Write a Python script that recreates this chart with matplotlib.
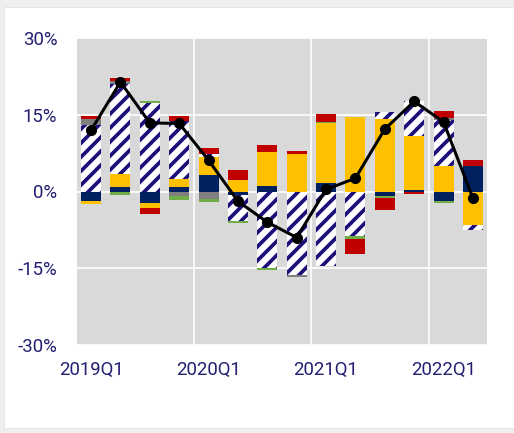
import matplotlib
matplotlib.use("Agg")
import matplotlib.pyplot as plt
from matplotlib.patches import Rectangle
import numpy as np

quarters = ["2019Q1", "2019Q2", "2019Q3", "2019Q4", "2020Q1", "2020Q2", "2020Q3",
            "2020Q4", "2021Q1", "2021Q2", "2021Q3", "2021Q4", "2022Q1", "2022Q2"]
tick_labels = ["2019Q1", "2020Q1", "2021Q1", "2022Q1"]

navy    = [-1.95, 0.8, -2.15, 0.9, 3.3, -0.65, 1.1, 0.0, 1.75, 0.0, -0.9, 0.2, -1.8, 4.9]
yellow  = [-0.45, 2.6, -1.0, 1.6, 3.4, 2.3, 6.7, 7.4, 11.6, 14.6, 14.1, 10.6, 5.0, -6.5]
hatched = [12.9, 17.7, 17.2, 11.2, 0.65, -5.2, -15.0, -16.3, -14.65, -8.6, 1.45, 6.8, 8.9, -1.0]
gray    = [1.25, 0.5, 0.0, -0.85, -1.5, 0.0, 0.0, -0.35, 0.0, 0.0, 0.0, 0.0, 0.4, 0.0]
green   = [0.0, -0.6, 0.45, -0.8, -0.6, -0.3, -0.35, 0.0, 0.25, -0.6, -0.3, 0.15, -0.35, 0.0]
red     = [0.65, 0.5, -1.2, 1.1, 1.15, 1.9, 1.3, 0.5, 1.5, -3.1, -2.35, -0.5, 1.4, 1.3]
total   = [12.0, 21.4, 13.4, 13.3, 6.1, -1.9, -6.0, -9.0, 0.4, 2.6, 12.2, 17.6, 13.6, -1.3]

DPI = 84
W, H = 514, 433
TXT = "#231f72"
HATCH_C = "#1c0f7a"

plt.rcParams["font.family"] = ["Roboto", "DejaVu Sans"]
plt.rcParams["hatch.linewidth"] = 3.2

fig = plt.figure(figsize=(W / DPI, H / DPI), dpi=DPI, facecolor="#efefef")
fig.patches.append(Rectangle((4 / W, 5 / H), 1 - 4 / W, 1 - 12 / H,
                             transform=fig.transFigure, facecolor="white",
                             edgecolor="#e4e4e4", linewidth=0.8, zorder=-10))

ax = fig.add_axes([77 / W, (H - 345) / H, (487 - 77) / W, (345 - 38) / H])
ax.set_zorder(1)
ax.set_facecolor("#d9d9d9")

x = np.arange(len(quarters))
width = 0.68
series = [
    (navy, dict(color="#002060")),
    (yellow, dict(color="#FFC000")),
    (hatched, dict(facecolor="white", edgecolor=HATCH_C, hatch="//", linewidth=0)),
    (gray, dict(color="#7f7f7f")),
    (green, dict(color="#70AD47")),
    (red, dict(color="#C00000")),
]
pos = np.zeros(len(x))
neg = np.zeros(len(x))
for vals, style in series:
    v = np.array(vals, dtype=float)
    bottom = np.where(v >= 0, pos, neg)
    ax.bar(x, v, width, bottom=bottom, zorder=2, **style)
    pos = pos + np.where(v > 0, v, 0)
    neg = neg + np.where(v < 0, v, 0)

ax.plot(x, total, color="black", linewidth=2.6, marker="o", markersize=8.5, zorder=4)

ax.set_xlim(-0.48, 13.48)
ax.set_ylim(-30, 30)
ax.set_yticks([30, 15, 0, -15, -30])
ax.set_yticklabels(["30%", "15%", "0%", "-15%", "-30%"])
ax.set_xticks([quarters.index(t) for t in tick_labels])
ax.set_xticklabels(tick_labels)
ax.set_xticks([3.5, 7.5, 11.5], minor=True)
ax.tick_params(axis="both", which="both", length=0, labelsize=16, colors=TXT)
ax.tick_params(axis="y", pad=17)
ax.tick_params(axis="x", pad=14)
ax.grid(axis="y", which="major", color="white", linewidth=1.4)
ax.grid(axis="x", which="minor", color="white", linewidth=1.4)
ax.grid(axis="x", which="major", visible=False)
ax.set_axisbelow(True)
for s in ax.spines.values():
    s.set_visible(False)

fig.savefig("out.png", dpi=DPI, facecolor=fig.get_facecolor())
